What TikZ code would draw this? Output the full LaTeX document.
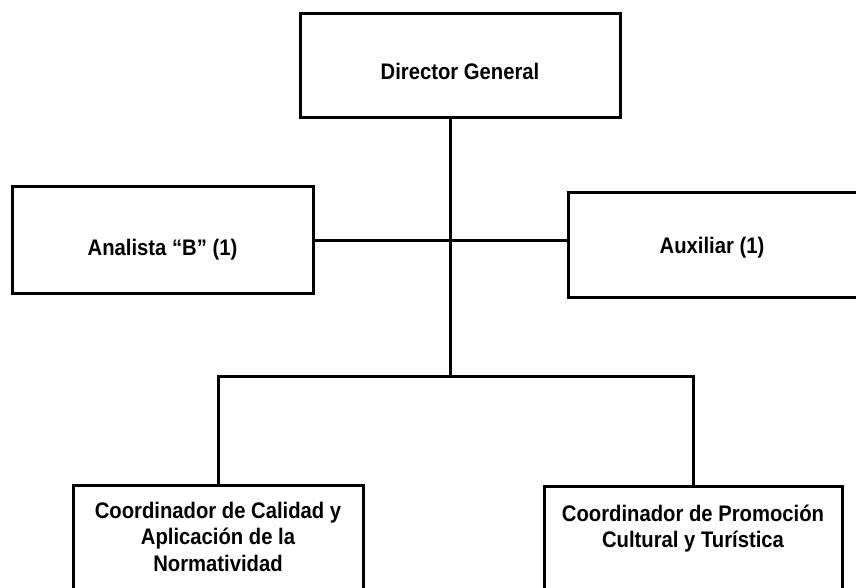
\documentclass[tikz,border=0pt]{standalone}
\usepackage{fontspec}
\setmainfont{Liberation Sans}[FakeStretch=0.9]
\newcommand{\orgtext}[4]{\parbox[c][#2][t]{#1}{\centering\vspace*{\dimexpr#3-18pt\relax}\rule{0pt}{18pt}#4\par}}
\begin{document}
\begin{tikzpicture}[x=1pt,y=-1pt,
  orgbox/.style={draw, line width=3pt, inner sep=0pt, font=\fontsize{22.5}{26.5}\selectfont\bfseries},
  link/.style={line width=3pt}]
\useasboundingbox (0,0) rectangle (856,588);
\clip (0,0) rectangle (856,588);
\node[orgbox] (dir) at (460,66) {\orgtext{320pt}{104pt}{66pt}{Director General}};
\node[orgbox] (ana) at (162.5,240) {\orgtext{301pt}{106pt}{68pt}{Analista “B” (1)}};
\node[orgbox] (aux) at (718,245) {\orgtext{300pt}{104pt}{60pt}{\hspace*{-12pt}Auxiliar (1)}};
\node[orgbox] (cal) at (218,545) {\orgtext{290pt}{120pt}{33pt}{Coordinador de Calidad y\\ Aplicación de la\\ Normatividad}};
\node[orgbox] (pro) at (693,546) {\orgtext{298pt}{120pt}{35pt}{Coordinador de Promoción\\ Cultural y Turística}};
\coordinate (mid) at (dir.south |- 0,376);
\coordinate (trunk) at (450,0);
\coordinate (jt) at (trunk |- dir.south);
\coordinate (jm) at (trunk |- 0,376);
\coordinate (jl) at (cal.north |- jm);
\coordinate (jr) at (pro.north |- jm);
\draw[link] (jt) -- (jm);
\draw[link] (ana.east) -- (ana.east -| aux.west);
\draw[link, line cap=rect] (jl) -- (jr);
\draw[link] (jl) -- (cal.north);
\draw[link] (jr) -- (pro.north);
\end{tikzpicture}
\end{document}
